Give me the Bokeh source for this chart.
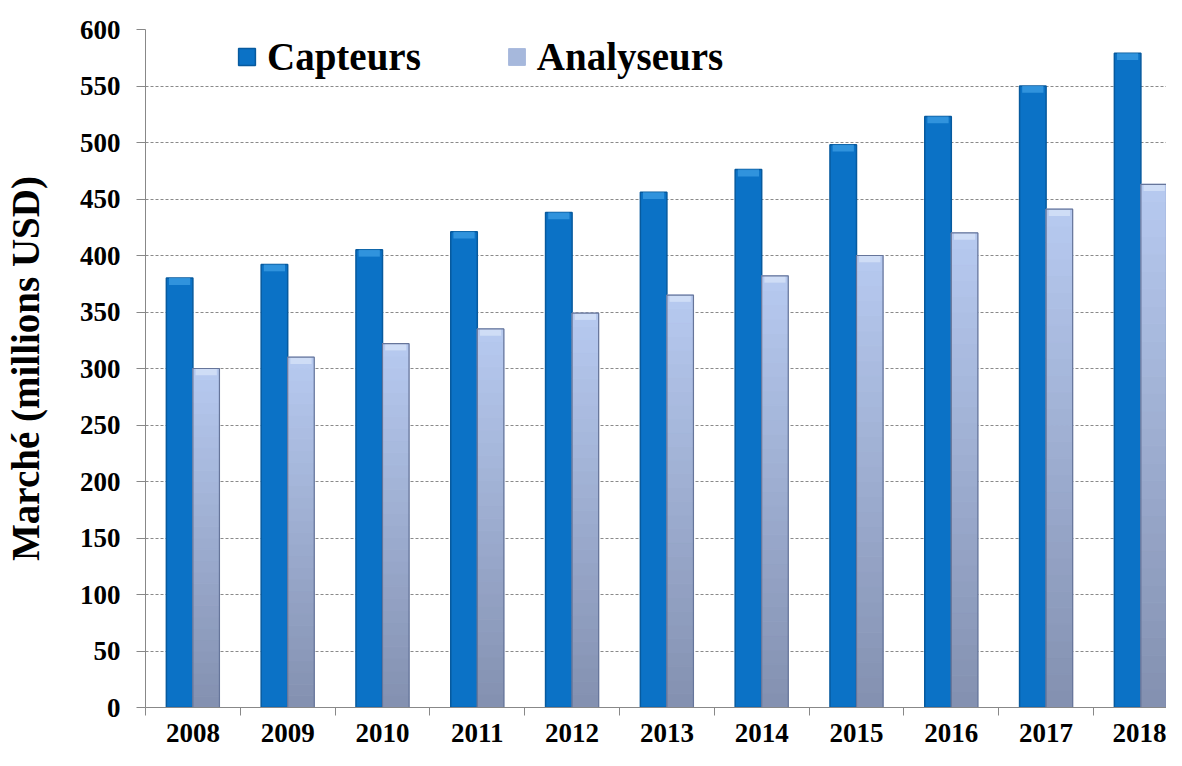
from bokeh.plotting import figure
from bokeh.models import (ColumnDataSource, Range1d, FixedTicker, Legend, LegendItem)
from bokeh.embed import file_html
from bokeh.resources import INLINE

years = ["2008", "2009", "2010", "2011", "2012", "2013", "2014", "2015", "2016", "2017", "2018"]
capteurs = [380, 392, 405, 421, 438, 456, 476, 498, 523, 550, 579]
analyseurs = [300, 310, 322, 335, 349, 365, 382, 400, 420, 441, 463]
y_ticks = [0, 50, 100, 150, 200, 250, 300, 350, 400, 450, 500, 550, 600]

FONT = "Liberation Serif"
W, H = 1166, 750
OFF = 0.14
BW = 0.28

p = figure(width=W, height=H, output_backend="svg", toolbar_location=None,
           x_range=Range1d(-0.5, 10.27), y_range=Range1d(0, 600),
           min_border_left=144, min_border_right=0, min_border_top=29, min_border_bottom=43)
p.outline_line_color = None
p.background_fill_color = "white"
p.border_fill_color = "white"

idx = list(range(len(years)))

# Capteurs
src_c = ColumnDataSource(dict(x=[i - OFF for i in idx], top=capteurs,
                              cap=[v - 6 for v in capteurs]))
r_c = p.vbar(x="x", top="top", bottom=0, width=BW, source=src_c,
             fill_color="#0B72C6", line_color="#075A9E", line_width=1.5)
p.vbar(x="x", top="top", bottom="cap", width=BW * 0.8, source=src_c,
       fill_color="#3A9BE2", line_color=None, fill_alpha=0.8)

# Analyseurs with vertical gradient
N = 30
c0 = (0x84, 0x91, 0xB1)
c1 = (0xB6, 0xC9, 0xEF)
xs, bots, tops, cols = [], [], [], []
for i, v in zip(idx, analyseurs):
    for k in range(N):
        t = k / (N - 1)
        col = "#%02x%02x%02x" % tuple(int(round(a + (b - a) * t)) for a, b in zip(c0, c1))
        xs.append(i + OFF)
        bots.append(v * k / N)
        tops.append(v * (k + 1) / N)
        cols.append(col)
src_a = ColumnDataSource(dict(x=xs, bottom=bots, top=tops, color=cols))
r_a = p.vbar(x="x", top="top", bottom="bottom", width=BW, source=src_a,
             fill_color="color", line_color="color", line_width=1)
src_ao = ColumnDataSource(dict(x=[i + OFF for i in idx], top=analyseurs,
                               cap=[v - 6 for v in analyseurs]))
p.vbar(x="x", top="top", bottom="cap", width=BW * 0.8, source=src_ao,
       fill_color="#D6E2F8", line_color=None, fill_alpha=0.8)
p.vbar(x="x", top="top", bottom=0, width=BW, source=src_ao,
       fill_color=None, line_color="#66759A", line_width=1.2)

# Axes
p.xaxis.ticker = FixedTicker(ticks=idx, minor_ticks=[i - 0.5 for i in idx] + [len(idx) - 0.5])
p.xaxis.major_label_overrides = {i: y for i, y in zip(idx, years)}
p.xaxis.major_tick_out = 0
p.xaxis.major_tick_in = 0
p.xaxis.minor_tick_out = 8
p.xaxis.minor_tick_in = 0
p.xaxis.minor_tick_line_color = "#888888"
p.xaxis.axis_line_color = "#888888"
p.xaxis.major_label_standoff = 8
p.xaxis.major_label_text_font = FONT
p.xaxis.major_label_text_font_style = "bold"
p.xaxis.major_label_text_font_size = "27px"
p.xaxis.major_label_text_color = "black"

p.yaxis.ticker = FixedTicker(ticks=y_ticks)
p.yaxis.major_tick_out = 9
p.yaxis.major_tick_in = 0
p.yaxis.minor_tick_line_color = None
p.yaxis.major_tick_line_color = "#888888"
p.yaxis.axis_line_color = "#888888"
p.yaxis.major_label_standoff = 16
p.yaxis.major_label_text_font = FONT
p.yaxis.major_label_text_font_style = "bold"
p.yaxis.major_label_text_font_size = "27px"
p.yaxis.major_label_text_color = "black"
p.yaxis.axis_label = "Marché (millions USD)"
p.yaxis.axis_label_text_font = FONT
p.yaxis.axis_label_text_font_style = "bold"
p.yaxis.axis_label_text_font_size = "39px"
p.yaxis.axis_label_text_color = "black"
p.yaxis.axis_label_standoff = 30

p.xgrid.grid_line_color = None
p.ygrid.ticker = FixedTicker(ticks=y_ticks[1:])
p.ygrid.grid_line_color = "#8a8a8a"
p.ygrid.grid_line_dash = "3 2"
p.ygrid.grid_line_width = 1

legend = Legend(items=[LegendItem(label="Capteurs", renderers=[r_c]),
                       LegendItem(label="Analyseurs", renderers=[r_a], index=N * 3 + 20)],
                orientation="horizontal", location=(91, 628),
                glyph_width=21, glyph_height=21, label_standoff=10, spacing=85,
                padding=0, margin=0, border_line_color=None, background_fill_alpha=0,
                label_text_font=FONT, label_text_font_style="bold",
                label_text_font_size="39px", label_text_color="black")
p.add_layout(legend, "center")

open("out.html", "w").write(file_html(p, INLINE))
